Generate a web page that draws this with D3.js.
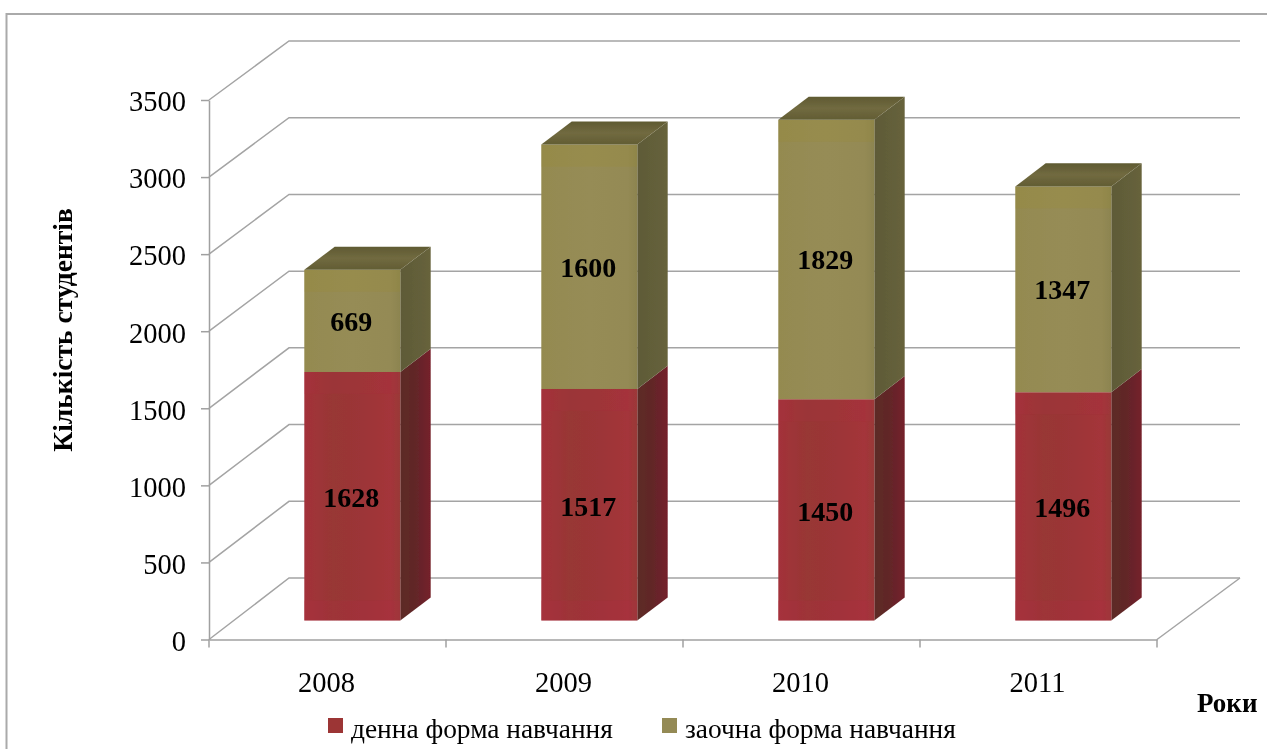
<!DOCTYPE html>
<html>
<head>
<meta charset="utf-8">
<script src="https://cdn.jsdelivr.net/npm/d3@7"></script>
<style>
  html, body { margin: 0; padding: 0; background: #fff; overflow: hidden; }
  text { font-family: "Liberation Serif", serif; fill: #000; }
</style>
</head>
<body>
<div id="graph"></div>
<script>
// chart data
var years = ["2008", "2009", "2010", "2011"];
var fullTime = [1628, 1517, 1450, 1496];
var partTime = [669, 1600, 1829, 1347];
var yTicks = [0, 500, 1000, 1500, 2000, 2500, 3000, 3500];
var seriesNames = ["денна форма навчання", "заочна форма навчання"];

var width = 1267, height = 749;

var svg = d3.select("#graph")
  .append("svg")
    .attr("width", width)
    .attr("height", height)
    .style("display", "block");

var defs = svg.append("defs");

// the picture is a slightly soft scan, so blur it a little
defs.append("filter").attr("id", "soft")
    .attr("x", "-5%").attr("y", "-5%").attr("width", "110%").attr("height", "110%")
  .append("feGaussianBlur").attr("stdDeviation", 0.5);

function addGradient(id, stops, vertical) {
  var g = defs.append("linearGradient").attr("id", id)
    .attr("x1", 0).attr("y1", 0)
    .attr("x2", vertical ? 0 : 1).attr("y2", vertical ? 1 : 0);
  stops.forEach(function(s) {
    g.append("stop").attr("offset", s[0]).attr("stop-color", s[1]);
  });
}

addGradient("redFront", [[0, "#a3323a"], [0.3, "#983735"], [0.6, "#9c3537"], [0.9, "#a4343a"], [1, "#993a38"]]);
addGradient("redSide", [[0, "#5c2c28"], [0.5, "#622628"], [1, "#751f2b"]]);
addGradient("oliveFront", [[0, "#948a50"], [0.5, "#968c56"], [0.9, "#948a54"], [1, "#8c8450"]]);
addGradient("oliveSide", [[0, "#5e5a38"], [1, "#67633b"]]);
addGradient("oliveTop", [[0, "#5f5a32"], [0.5, "#716a40"], [1, "#625d33"]], true);

// scales: front plane and back wall of the 3d box
var x = d3.scaleBand().domain(years).range([209, 1157]);
var y = d3.scaleLinear().domain([0, 3500]).range([639.5, 100]);
var xBack = d3.scaleLinear().domain([0, 1]).range([289, 1240]);
var yBack = d3.scaleLinear().domain([0, 3500]).range([578, 41]);
// the bars run a bit shorter than the front axis
var yBar = d3.scaleLinear().domain([0, 3500]).range([639.5, 105]);

// depth of the box, and where a bar sits inside it
var depthX = 80, depthY = -61;
var barFront = 0.31, barBack = 0.69;
var barWidth = 96;

function project(xPos, value, depth) {
  return [xPos + depth * depthX, yBar(value) + depth * depthY];
}

var chart = svg.append("g").attr("filter", "url(#soft)");

// outer frame, it runs off the picture on the right and bottom
chart.append("path")
  .attr("d", "M6.5," + height + "V14H" + width)
  .attr("fill", "none")
  .attr("stroke", "#aaa")
  .attr("stroke-width", 2);

// gridlines: side wall then back wall
var grid = chart.append("g")
  .attr("fill", "none")
  .attr("stroke", "#a4a4a4")
  .attr("stroke-width", 1.5);

yTicks.forEach(function(t) {
  grid.append("path")
    .attr("d", d3.line()([
      [x.range()[0], y(t)],
      [xBack(0), yBack(t)],
      [xBack(1), yBack(t)]
    ]));
});

// floor edge on the right
grid.append("path")
  .attr("d", d3.line()([[x.range()[1], y(0)], [xBack(1), yBack(0)]]));

// Y axis
var yAxis = chart.append("g")
  .attr("class", "axis")
  .attr("transform", "translate(" + x.range()[0] + ",0)")
  .call(d3.axisLeft(y)
    .tickValues(yTicks)
    .tickFormat(d3.format("d"))
    .tickSize(8)
    .tickPadding(15)
    .tickSizeOuter(0));
yAxis.selectAll("text")
  .attr("dy", "0.38em")
  .attr("font-size", 28.5)
  .style("font-family", '"Liberation Serif", serif');

// X axis, ticks go between the categories
var xAxis = chart.append("g")
  .attr("class", "axis")
  .attr("transform", "translate(0," + y(0) + ")")
  .call(d3.axisBottom(x).tickSize(0).tickPadding(32));
xAxis.selectAll("text")
  .attr("font-size", 28.5)
  .attr("dx", -1)
  .style("font-family", '"Liberation Serif", serif');
xAxis.selectAll(".edge")
  .data(years.map(function(d) { return x(d); }).concat([x.range()[1]]))
  .enter().append("line")
    .attr("x1", function(d) { return d; })
    .attr("x2", function(d) { return d; })
    .attr("y1", 0)
    .attr("y2", 8);
chart.selectAll(".axis path, .axis line")
  .attr("stroke", "#a0a0a0")
  .attr("stroke-width", 1.5);

// one box of a stack, from value v0 up to v1
function drawBox(g, left, v0, v1, front, side) {
  var right = left + barWidth;
  var fl0 = project(left, v0, barFront),
      fr0 = project(right, v0, barFront),
      fl1 = project(left, v1, barFront),
      fr1 = project(right, v1, barFront),
      br0 = project(right, v0, barBack),
      br1 = project(right, v1, barBack);
  g.append("path")
    .attr("d", d3.line()([fr0, br0, br1, fr1]) + "Z")
    .attr("fill", "url(#" + side + ")");
  g.append("path")
    .attr("d", d3.line()([fl0, fr0, fr1, fl1]) + "Z")
    .attr("fill", "url(#" + front + ")");
}

// the lighter strips the bevel leaves on the front of a bar
function drawBand(g, left, yTop, h, color, opacity) {
  g.append("rect")
    .attr("x", project(left, 0, barFront)[0])
    .attr("y", yTop)
    .attr("width", barWidth)
    .attr("height", h)
    .attr("fill", color)
    .attr("opacity", opacity);
}

var bars = chart.append("g");
years.forEach(function(year, i) {
  var g = bars.append("g");
  var total = fullTime[i] + partTime[i];
  var left = x(year) + x.bandwidth() / 2 - barWidth / 2;

  drawBox(g, left, 0, fullTime[i], "redFront", "redSide");
  drawBox(g, left, fullTime[i], total, "oliveFront", "oliveSide");

  drawBand(g, left, project(left, 0, barFront)[1] - 20, 20, "#b02c44", 0.25);
  drawBand(g, left, project(left, fullTime[i], barFront)[1], 22, "#b02c44", 0.15);
  drawBand(g, left, project(left, total, barFront)[1], 22, "#9a8e30", 0.2);

  // top face
  g.append("path")
    .attr("d", d3.line()([
      project(left, total, barFront),
      project(left + barWidth, total, barFront),
      project(left + barWidth, total, barBack),
      project(left, total, barBack)
    ]) + "Z")
    .attr("fill", "url(#oliveTop)");

  // value labels
  var cx = project(left, 0, barFront)[0] + barWidth / 2 - 1;
  g.append("text")
    .attr("x", cx)
    .attr("y", project(left, fullTime[i] / 2, barFront)[1] + 11)
    .attr("text-anchor", "middle")
    .attr("font-size", 28)
    .attr("font-weight", "bold")
    .text(fullTime[i]);
  g.append("text")
    .attr("x", cx)
    .attr("y", project(left, fullTime[i] + partTime[i] / 2, barFront)[1] + 10)
    .attr("text-anchor", "middle")
    .attr("font-size", 28)
    .attr("font-weight", "bold")
    .text(partTime[i]);
});

// axis titles
chart.append("text")
  .attr("transform", "translate(72,330) rotate(-90)")
  .attr("text-anchor", "middle")
  .attr("font-size", 27.5)
  .attr("font-weight", "bold")
  .text("Кількість студентів");

chart.append("text")
  .attr("x", 1197)
  .attr("y", 712)
  .attr("font-size", 27)
  .attr("font-weight", "bold")
  .text("Роки");

// legend
var legendColors = ["#9c3534", "#948a54"];
var legendX = [328, 662];
seriesNames.forEach(function(name, i) {
  chart.append("rect")
    .attr("x", legendX[i])
    .attr("y", 718)
    .attr("width", 15)
    .attr("height", 15)
    .attr("fill", legendColors[i]);
  chart.append("text")
    .attr("x", legendX[i] + 23)
    .attr("y", 738)
    .attr("font-size", 27.4)
    .text(name);
});
</script>
</body>
</html>
